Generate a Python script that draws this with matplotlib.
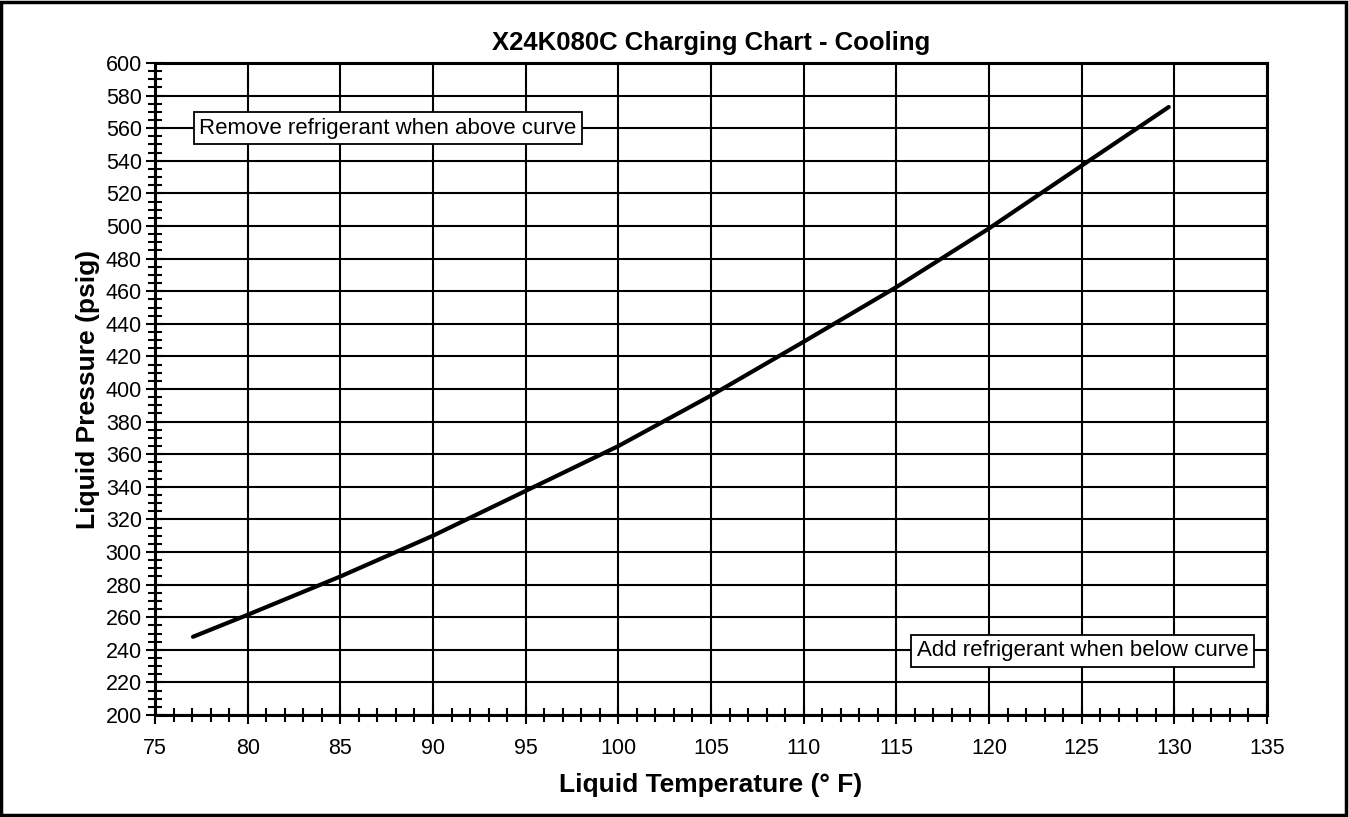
import matplotlib
matplotlib.use("Agg")
import matplotlib.pyplot as plt
from matplotlib.ticker import MultipleLocator
from matplotlib.patches import Rectangle

plt.rcParams['font.family'] = ['Liberation Sans', 'DejaVu Sans']

# liquid temperature (F) vs liquid pressure (psig)
temp = [77.05, 80, 85, 90, 95, 100, 105, 110, 115, 120, 125, 129.7]
pressure = [248, 261.5, 285, 310, 337.5, 365, 396, 429, 462.5, 498.5, 537, 573]

title = "X24K080C Charging Chart - Cooling"
xlabel = "Liquid Temperature (° F)"
ylabel = "Liquid Pressure (psig)"
note_above = "Remove refrigerant when above curve"
note_below = "Add refrigerant when below curve"

fig = plt.figure(figsize=(13.49, 8.17), dpi=100)
ax = fig.add_axes([0.1149, 0.1248, 0.8243, 0.7981])

ax.plot(temp, pressure, color='black', lw=3.0, solid_capstyle='round', zorder=3)

ax.set_xlim(75, 135)
ax.set_ylim(200, 600)
ax.xaxis.set_major_locator(MultipleLocator(5))
ax.xaxis.set_minor_locator(MultipleLocator(1))
ax.yaxis.set_major_locator(MultipleLocator(20))
ax.yaxis.set_minor_locator(MultipleLocator(5))
ax.grid(which='major', color='black', lw=1.5)
ax.set_axisbelow(True)

ax.tick_params(which='major', direction='inout', length=13, width=1.5,
               labelsize=15.5, colors='black', pad=3)
ax.tick_params(which='minor', direction='inout', length=9.5, width=1.5)
ax.tick_params(axis='x', which='major', pad=10)
for s in ax.spines.values():
    s.set_linewidth(2.2)
    s.set_color('black')

ax.set_title(title, fontsize=18.5, fontweight='bold', pad=9)
ax.set_xlabel(xlabel, fontsize=19, fontweight='bold', labelpad=10)
ax.set_ylabel(ylabel, fontsize=19, fontweight='bold', labelpad=4)

box = dict(boxstyle='square,pad=0.25', fc='white', ec='black', lw=1.3)
ax.text(77.4, 560, note_above, fontsize=16, ha='left', va='center', bbox=box, zorder=4)
ax.text(134.0, 239.5, note_below, fontsize=16, ha='right', va='center', bbox=box, zorder=4)

# outer frame round the whole figure
fig.patches.append(Rectangle((0.001, 0.002), 0.997, 0.996, transform=fig.transFigure,
                             fill=False, ec='black', lw=2.5))

fig.savefig("out.png", dpi=100)
